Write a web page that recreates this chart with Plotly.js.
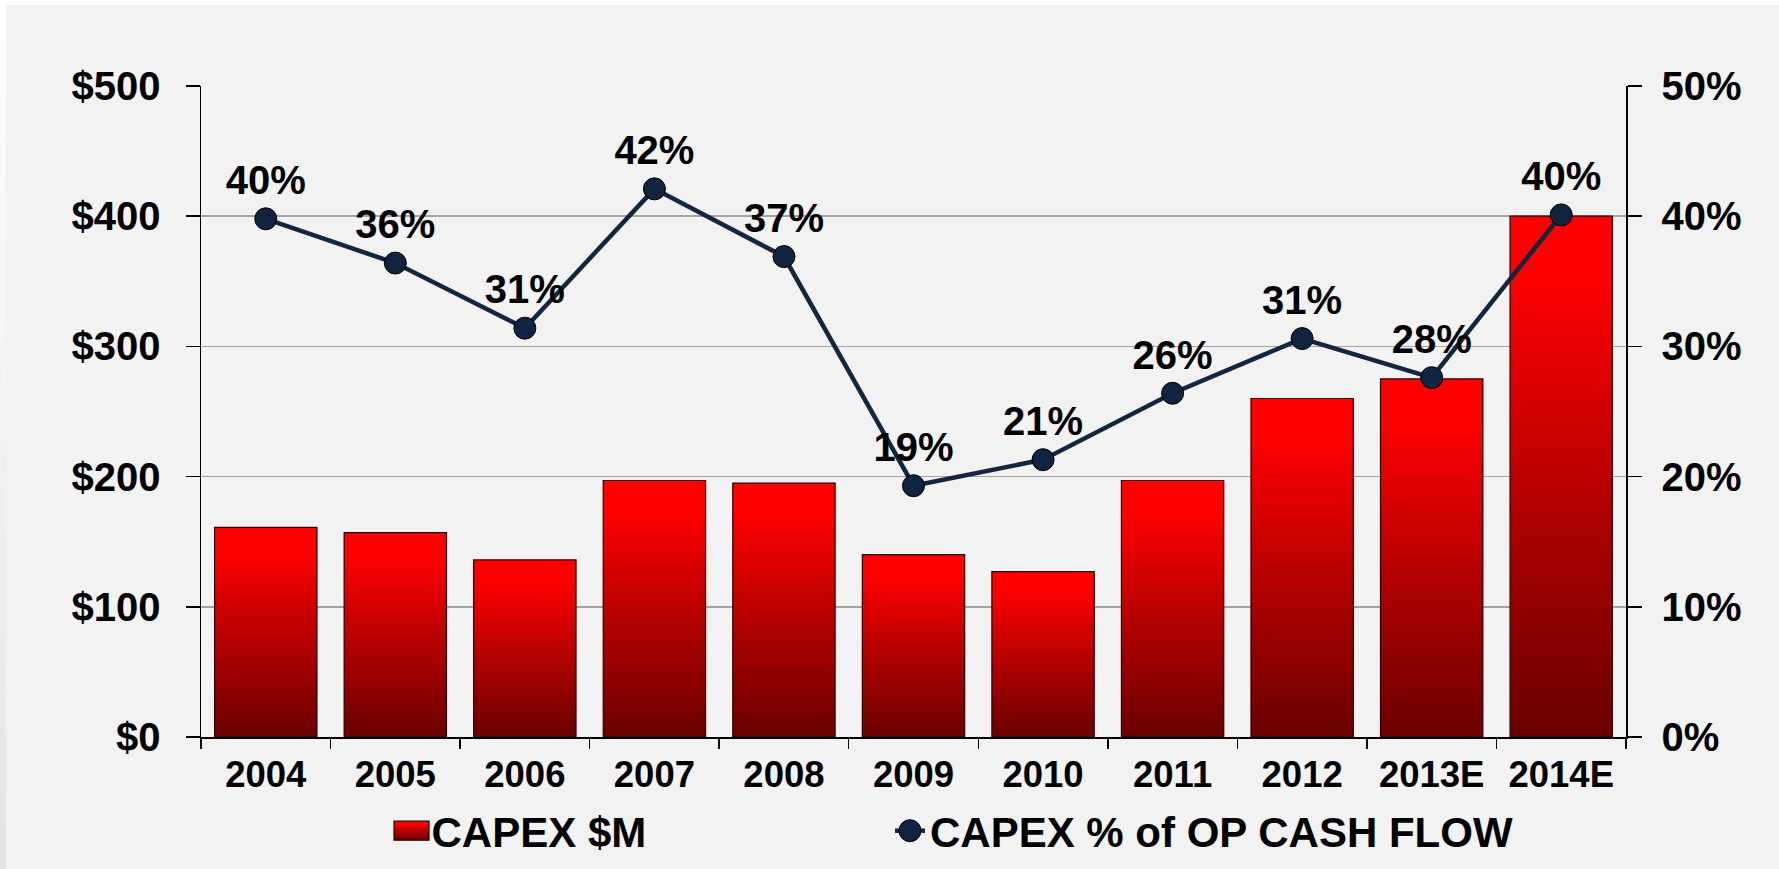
<!DOCTYPE html>
<html><head><meta charset="utf-8">
<script src="https://cdn.plot.ly/plotly-3.0.1.min.js"></script>
<style>
html,body{margin:0;padding:0;width:1779px;height:869px;overflow:hidden;background:linear-gradient(to bottom,#ffffff 0%,#e4e4e4 100%);}
#chart{position:absolute;left:6px;top:5px;width:1773px;height:864px;}
</style></head><body><div id="chart"></div>
<script>
const years = ['2004','2005','2006','2007','2008','2009','2010','2011','2012','2013E','2014E'];
const capex = [161,157,136,197,195,140,127,197,260,275,400];
const capexPct = [39.8,36.4,31.4,42.1,36.9,19.3,21.3,26.4,30.6,27.6,40.1];
const leftTicks = [0,100,200,300,400,500];
const rightTicks = [0,10,20,30,40,50];
const seriesNames = ['CAPEX $M','CAPEX % of OP CASH FLOW'];

const FONT = 'Liberation Sans, Arial, sans-serif';
const legFont = {size:42, family:FONT, weight:'bold', color:'#000'};

const traces = [
  {type:'bar', name:seriesNames[0], x:years, y:capex, legend:'legend',
   marker:{color:'#c00000', line:{color:'#2a0000', width:1.2}}, hoverinfo:'none'},
  {type:'scatter', mode:'lines+markers+text', name:seriesNames[1], x:years, y:capexPct, yaxis:'y2', legend:'legend2',
   line:{color:'#132640', width:4.5},
   marker:{size:22, color:'#10233f', line:{color:'#000', width:1}},
   texttemplate:'%{y:.0f}%', textposition:'top center',
   textfont:{family:FONT, size:40, color:'#000', weight:'bold'}, cliponaxis:false, hoverinfo:'none'}
];

const layout = {
  width:1773, height:864,
  paper_bgcolor:'#f2f2f2', plot_bgcolor:'rgba(0,0,0,0)',
  margin:{l:195, r:153, t:81, b:132, autoexpand:false},
  font:{family:FONT, weight:'bold', color:'#000'},
  bargap:0.21,
  showlegend:true,
  legend:{orientation:'h', x:0.1337, xanchor:'left', y:-0.092, yanchor:'top',
          font:legFont, bgcolor:'rgba(0,0,0,0)', itemsizing:'trace'},
  legend2:{orientation:'h', x:0.4835, xanchor:'left', y:-0.092, yanchor:'top',
          font:legFont, bgcolor:'rgba(0,0,0,0)', itemsizing:'trace'},
  xaxis:{type:'category', categoryorder:'array', categoryarray:years, range:[-0.5,10.5], tickson:'boundaries',
         ticks:'outside', ticklen:10, tickwidth:1.5, tickcolor:'#000',
         showline:true, linecolor:'#000', linewidth:1.5, showgrid:false,
         tickfont:{size:36.5, family:FONT, weight:'bold', color:'#000'}, ticklabelstandoff:5},
  yaxis:{range:[0,500], tickvals:leftTicks, ticktext:leftTicks.map(v=>'$'+v),
         showgrid:true, gridcolor:'#a3a3a3', gridwidth:1.5, zeroline:false,
         ticks:'outside', ticklen:14, tickwidth:1.5, tickcolor:'#000',
         showline:true, linecolor:'#000', linewidth:1.5,
         tickfont:{size:40, family:FONT, weight:'bold', color:'#000'}, ticklabelstandoff:17},
  yaxis2:{overlaying:'y', side:'right', range:[0,50], tickvals:rightTicks, ticktext:rightTicks.map(v=>v+'%'),
          showgrid:false, zeroline:false,
          ticks:'outside', ticklen:14, tickwidth:1.5, tickcolor:'#000',
          showline:true, linecolor:'#000', linewidth:1.5,
          tickfont:{size:40, family:FONT, weight:'bold', color:'#000'}, ticklabelstandoff:12}
};

const ns='http://www.w3.org/2000/svg';
function addGrad(svg, id){
  if(svg.querySelector('#'+id)) return;
  let defs = svg.querySelector('defs');
  if(!defs){defs=document.createElementNS(ns,'defs');svg.insertBefore(defs,svg.firstChild);}
  const g=document.createElementNS(ns,'linearGradient');
  g.setAttribute('id',id);g.setAttribute('x1','0');g.setAttribute('y1','0');g.setAttribute('x2','0');g.setAttribute('y2','1');
  [['0','#ff0000'],['0.12','#ff0000'],['0.55','#b30000'],['1','#6a0000']].forEach(s=>{
    const st=document.createElementNS(ns,'stop');st.setAttribute('offset',s[0]);st.setAttribute('stop-color',s[1]);g.appendChild(st);
  });
  defs.appendChild(g);
}
function fix(gd){
  const svgs = Array.from(gd.querySelectorAll('svg.main-svg'));
  svgs.forEach((s,i)=>addGrad(s,'barGrad'+i));
  const gid = p => 'url(#barGrad'+svgs.indexOf(p.ownerSVGElement)+')';
  gd.querySelectorAll('.barlayer .point path').forEach(p=>{ p.style.fill=gid(p); });
  gd.querySelectorAll('.legendpoints path').forEach(p=>{
    if(p.classList.contains('legendbar') || p.getAttribute('d')==='M6,6H-6V-6H6Z'){
      p.setAttribute('d','M17.5,9.5H-17.5V-9.5H17.5Z');
      p.style.fill=gid(p);
    }
    if(p.classList.contains('scatterpts')){
      p.setAttribute('d','M11,0A11,11 0 1,1 0,-11A11,11 0 0,1 11,0Z');
    }
  });
}

Plotly.newPlot('chart', traces, layout, {displayModeBar:false, staticPlot:true}).then(gd=>{
  fix(gd);
  gd.on('plotly_afterplot', ()=>fix(gd));
  setTimeout(()=>fix(gd), 200);
  setTimeout(()=>fix(gd), 800);
});
</script></body></html>
